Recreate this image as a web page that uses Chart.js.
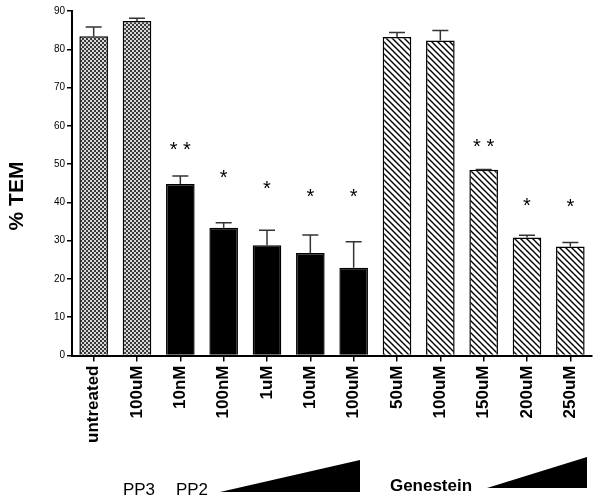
<!DOCTYPE html>
<html>
<head>
<meta charset="utf-8">
<script src="https://cdn.jsdelivr.net/npm/chart.js@4.4.1/dist/chart.umd.min.js"></script>
<style>
html,body{margin:0;padding:0;background:#fff;}
#wrap{width:600px;height:500px;}
</style>
</head>
<body>
<div id="wrap"><canvas id="c" width="600" height="500"></canvas></div>
<script>
// ---- data ----
const categories = ['untreated','100uM','10nM','100nM','1uM','10uM','100uM','50uM','100uM','150uM','200uM','250uM'];
const groups     = ['PP3','PP3','PP2','PP2','PP2','PP2','PP2','Gen','Gen','Gen','Gen','Gen'];
const temValues  = [83.4, 87.4, 44.8, 33.4, 28.8, 26.8, 22.9, 83.2, 82.3, 48.5, 30.8, 28.5];
const errUpper   = [85.8, 88.1, 46.9, 34.7, 32.7, 31.5, 29.7, 84.4, 84.9, 48.6, 31.4, 29.5];
const starText   = ['', '', '* *', '*', '*', '*', '*', '', '', '* *', '*', '*'];
const starLevel  = [null, null, 54.7, 47.4, 44.5, 42.2, 42.2, null, null, 55.5, 39.9, 39.8];
const yTicks     = [0,10,20,30,40,50,60,70,80,90];

// ---- patterns ----
function checkerPattern(){
  const t=document.createElement('canvas'); t.width=4; t.height=4;
  const g=t.getContext('2d');
  g.fillStyle='#d8d8d8'; g.fillRect(0,0,4,4);
  g.fillStyle='#3a3a3a'; g.fillRect(0,0,2,2); g.fillRect(2,2,2,2);
  return g.createPattern(t,'repeat');
}
function hatchPattern(){
  const t=document.createElement('canvas'); t.width=6; t.height=6;
  const g=t.getContext('2d');
  g.fillStyle='#fff'; g.fillRect(0,0,6,6);
  g.strokeStyle='#000'; g.lineWidth=1.4;
  g.beginPath();
  g.moveTo(-1,-1); g.lineTo(7,7);
  g.moveTo(-1,5); g.lineTo(1,7);
  g.moveTo(5,-1); g.lineTo(7,1);
  g.stroke();
  return g.createPattern(t,'repeat');
}
const ctx=document.getElementById('c').getContext('2d');
const pat={PP3:checkerPattern(), PP2:'#000', Gen:hatchPattern()};
const fills=groups.map(g=>pat[g]);

const decor={
  id:'decor',
  afterDatasetsDraw(chart){
    const c=chart.ctx, ys=chart.scales.y, meta=chart.getDatasetMeta(0);
    c.save();
    // error bars
    c.strokeStyle='#333'; c.lineWidth=1.5;
    meta.data.forEach((el,i)=>{
      const x=el.x, yb=ys.getPixelForValue(temValues[i]), yt=ys.getPixelForValue(errUpper[i]);
      c.beginPath(); c.moveTo(x,yb); c.lineTo(x,yt);
      c.moveTo(x-8,yt); c.lineTo(x+8,yt); c.stroke();
    });
    // stars
    c.fillStyle='#000'; c.font='20px Arial, "Liberation Sans", sans-serif';
    c.textAlign='center'; c.textBaseline='middle';
    meta.data.forEach((el,i)=>{
      if(starText[i]) c.fillText(starText[i], el.x, ys.getPixelForValue(starLevel[i])+4);
    });
    // y title
    c.save();
    c.translate(17,196); c.rotate(-Math.PI/2);
    c.font='bold 21px Arial, "Liberation Sans", sans-serif';
    c.fillText('% TEM',0,0);
    c.restore();
    // bottom group labels
    c.textAlign='center'; c.textBaseline='alphabetic';
    c.font='17px Arial, "Liberation Sans", sans-serif';
    c.fillText('PP3',139,495);
    c.fillText('PP2',192,495);
    c.font='bold 17px Arial, "Liberation Sans", sans-serif';
    c.fillText('Genestein',431,491);
    c.beginPath(); c.moveTo(220,492); c.lineTo(360,460); c.lineTo(360,492); c.closePath(); c.fill();
    c.beginPath(); c.moveTo(487,488); c.lineTo(587,457); c.lineTo(587,488); c.closePath(); c.fill();
    c.restore();
  }
};

new Chart(ctx,{
  type:'bar',
  data:{labels:categories, datasets:[{
    data:temValues, backgroundColor:fills, borderColor:'#000', borderWidth:1.5,
    barPercentage:0.66, categoryPercentage:1.0
  }]},
  options:{
    responsive:false, animation:false,
    layout:{padding:{top:11,right:8,left:0,bottom:0}},
    plugins:{legend:{display:false}, tooltip:{enabled:false}},
    scales:{
      y:{
        min:0, max:90,
        afterBuildTicks(s){ s.ticks=yTicks.map(v=>({value:v})); },
        afterFit(s){ s.width=72; },
        ticks:{color:'#000', font:{size:10, family:'Arial, "Liberation Sans", sans-serif'}, padding:2},
        border:{color:'#000', width:2},
        grid:{drawOnChartArea:false, drawTicks:true, tickLength:5, color:'#000', lineWidth:1.5}
      },
      x:{
        afterFit(s){ s.height=144.5; },
        ticks:{color:'#000', maxRotation:90, minRotation:90, autoSkip:false, padding:4,
               font:{size:17, weight:'bold', family:'Arial, "Liberation Sans", sans-serif'}},
        border:{color:'#000', width:2},
        grid:{offset:false, drawOnChartArea:false, drawTicks:true, tickLength:6, color:'#000', lineWidth:1.5}
      }
    }
  },
  plugins:[decor]
});
</script>
</body>
</html>
